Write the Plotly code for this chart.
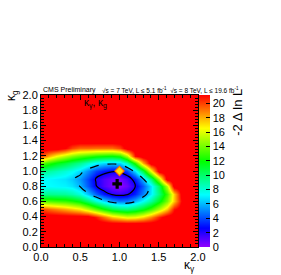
import plotly.graph_objects as go

# ---- data ----
kappa_gamma = [0.0, 0.1, 0.2, 0.3, 0.4, 0.5, 0.6, 0.7, 0.8, 0.9, 1.0,
               1.1, 1.2, 1.3, 1.4, 1.5, 1.6, 1.7, 1.8, 1.9, 2.0]
kappa_g = [0.0, 0.3, 0.4, 0.5, 0.6, 0.7, 0.8, 0.9, 1.0, 1.1, 1.2, 1.3, 1.4, 2.0]

row_000 = [22] * 21
row_030 = [22] * 21
row_040 = [22, 22, 22, 22, 22, 22, 22, 20.8, 19.2, 17.6, 16.8, 16.1, 16.3, 17.2, 18.7, 20.6, 22, 22, 22, 22, 22]
row_050 = [20, 19.3, 18.7, 18.1, 17.5, 16.8, 15.3, 13.6, 12.0, 10.6, 9.9, 9.6, 10.3, 11.4, 13.0, 15.1, 17.5, 20.9, 22, 22, 22]
row_060 = [13.5, 13.3, 13.0, 12.8, 12.3, 11.5, 9.9, 8.1, 6.6, 5.4, 4.8, 4.9, 5.9, 7.4, 9.1, 11.4, 14.1, 17.6, 21.5, 22, 22]
row_070 = [9.2, 9.3, 9.2, 9.1, 8.7, 7.9, 6.2, 4.4, 3.0, 2.0, 1.6, 2.0, 3.2, 5.0, 7.0, 9.7, 13.0, 17.5, 22, 22, 22]
row_080 = [7.2, 7.3, 7.2, 7.1, 6.8, 5.9, 4.2, 2.4, 1.2, 0.4, 0.1, 0.7, 2.2, 4.3, 6.8, 10.3, 15.4, 22, 22, 22, 22]
row_090 = [7.4, 7.2, 7.0, 6.8, 6.3, 5.4, 3.9, 2.2, 1.2, 0.6, 0.5, 1.3, 3.2, 6.0, 9.7, 15.1, 22, 22, 22, 22, 22]
row_100 = [9.6, 9.0, 8.5, 8.0, 7.5, 6.6, 5.2, 3.8, 3.0, 2.5, 2.7, 3.9, 6.7, 10.7, 16.3, 22, 22, 22, 22, 22, 22]
row_110 = [13.8, 12.6, 11.6, 10.9, 10.1, 9.3, 8.2, 7.2, 6.6, 6.3, 6.6, 8.5, 12.6, 18.1, 22, 22, 22, 22, 22, 22, 22]
row_120 = [20, 18.0, 16.4, 15.3, 14.3, 13.5, 12.9, 12.3, 12.0, 11.8, 12.4, 15.1, 20.9, 22, 22, 22, 22, 22, 22, 22, 22]
row_130 = [22, 22, 22, 21.3, 20, 19.3, 19.3, 19.2, 19.2, 19.2, 20, 22, 22, 22, 22, 22, 22, 22, 22, 22, 22]
row_140 = [22] * 21
row_200 = [22] * 21
delta_nll = [row_000, row_030, row_040, row_050, row_060, row_070, row_080,
             row_090, row_100, row_110, row_120, row_130, row_140, row_200]

contour_68 = 2.30
contour_95 = 5.99
best_fit_x = [0.97]
best_fit_y = [0.83]
sm_x = [1.0]
sm_y = [1.0]
x_tick_vals = [0.0, 0.5, 1.0, 1.5, 2.0]
cbar_tick_vals = [0, 2, 4, 6, 8, 10, 12, 14, 16, 18, 20]
z_max = 21.2

# ROOT "pretty palette" (violet -> red)
palette = [
    [0.000, "#9100ff"],
    [0.124, "#0000ff"],
    [0.343, "#00ffff"],
    [0.562, "#00ff00"],
    [0.781, "#ffff00"],
    [1.000, "#ff0000"],
]

FONT = "Liberation Sans, Arial, Helvetica, sans-serif"
W, H = 281, 275
L, R, T, B = 41, 83, 95, 26
PW = W - L - R
PH = H - T - B


def px(X):
    return (X - L) / PW


def py(Y):
    return (H - B - Y) / PH


fig = go.Figure()

fig.add_trace(go.Heatmap(
    x=kappa_gamma, y=kappa_g, z=delta_nll,
    zmin=0, zmax=z_max, zsmooth="best",
    colorscale=palette,
    colorbar=dict(
        x=1.0 + 1.0 / PW, xanchor="left", xpad=0, ypad=0,
        y=0.5, yanchor="middle", len=1.0, lenmode="fraction",
        thickness=11, thicknessmode="pixels",
        outlinewidth=0,
        tickmode="array", tickvals=cbar_tick_vals,
        ticks="inside", ticklen=4, tickcolor="black",
        tickfont=dict(family=FONT, size=11, color="black"),
    ),
    hoverinfo="skip",
))

for level, dash in [(contour_68, "solid"), (contour_95, "dash")]:
    fig.add_trace(go.Contour(
        x=kappa_gamma, y=kappa_g, z=delta_nll,
        contours=dict(start=level, end=level, size=1, coloring="none"),
        line=dict(color="black", width=1.2, dash=dash, smoothing=1.3),
        showscale=False, hoverinfo="skip",
    ))

fig.add_trace(go.Scatter(
    x=best_fit_x, y=best_fit_y, mode="markers",
    marker=dict(symbol="cross", size=8, color="black"),
    hoverinfo="skip", showlegend=False,
))
fig.add_trace(go.Scatter(
    x=sm_x, y=sm_y, mode="markers",
    marker=dict(symbol="diamond", size=7, color="#ffe000",
                line=dict(color="#ff7000", width=1.2)),
    hoverinfo="skip", showlegend=False,
))

axis_common = dict(
    range=[0, 2], showgrid=False, zeroline=False,
    showline=True, linecolor="black", linewidth=1, mirror="allticks",
    ticks="inside", ticklen=5, tickcolor="black",
    tickfont=dict(family=FONT, size=11, color="black"),
    tickformat=".1f",
)
fig.update_xaxes(**axis_common, tickmode="array", tickvals=x_tick_vals,
                 minor=dict(dtick=0.1, ticks="inside", ticklen=3, tickcolor="black"))
fig.update_yaxes(**axis_common, dtick=0.2, tick0=0,
                 minor=dict(dtick=0.04, ticks="inside", ticklen=3, tickcolor="black"))

ann = [
    dict(text="CMS Preliminary", x=px(41), y=py(90), xanchor="left", yanchor="middle",
         font=dict(size=7)),
    dict(text="√s = 7 TeV, L ≤ 5.1 fb<sup>-1</sup>  √s = 8 TeV, L ≤ 19.6 fb<sup>-1</sup>",
         x=px(100), y=py(90), xanchor="left", yanchor="middle", font=dict(size=6.5)),
    dict(text="κ<sub>γ</sub>, κ<sub>g</sub>", x=px(95), y=py(104),
         xanchor="center", yanchor="middle", font=dict(size=10)),
    dict(text="κ<sub>γ</sub>", x=px(189), y=py(268), xanchor="center", yanchor="middle",
         font=dict(size=12)),
    dict(text="κ<sub>g</sub>", x=px(12), y=py(96), xanchor="center", yanchor="middle",
         textangle=-90, font=dict(size=12)),
    dict(text="-2 Δ ln L", x=px(238), y=py(113), xanchor="center", yanchor="middle",
         textangle=-90, font=dict(size=13)),
]
for a in ann:
    a.update(xref="paper", yref="paper", showarrow=False)
    a["font"].update(family=FONT, color="black")

fig.update_layout(
    width=W, height=H,
    margin=dict(l=L, r=R, t=T, b=B, pad=0),
    paper_bgcolor="white", plot_bgcolor="white",
    showlegend=False,
    annotations=ann,
    font=dict(family=FONT, color="black"),
)

fig.write_html("out.html", config={"displayModeBar": False},
               post_script="document.body.style.margin='0';")
